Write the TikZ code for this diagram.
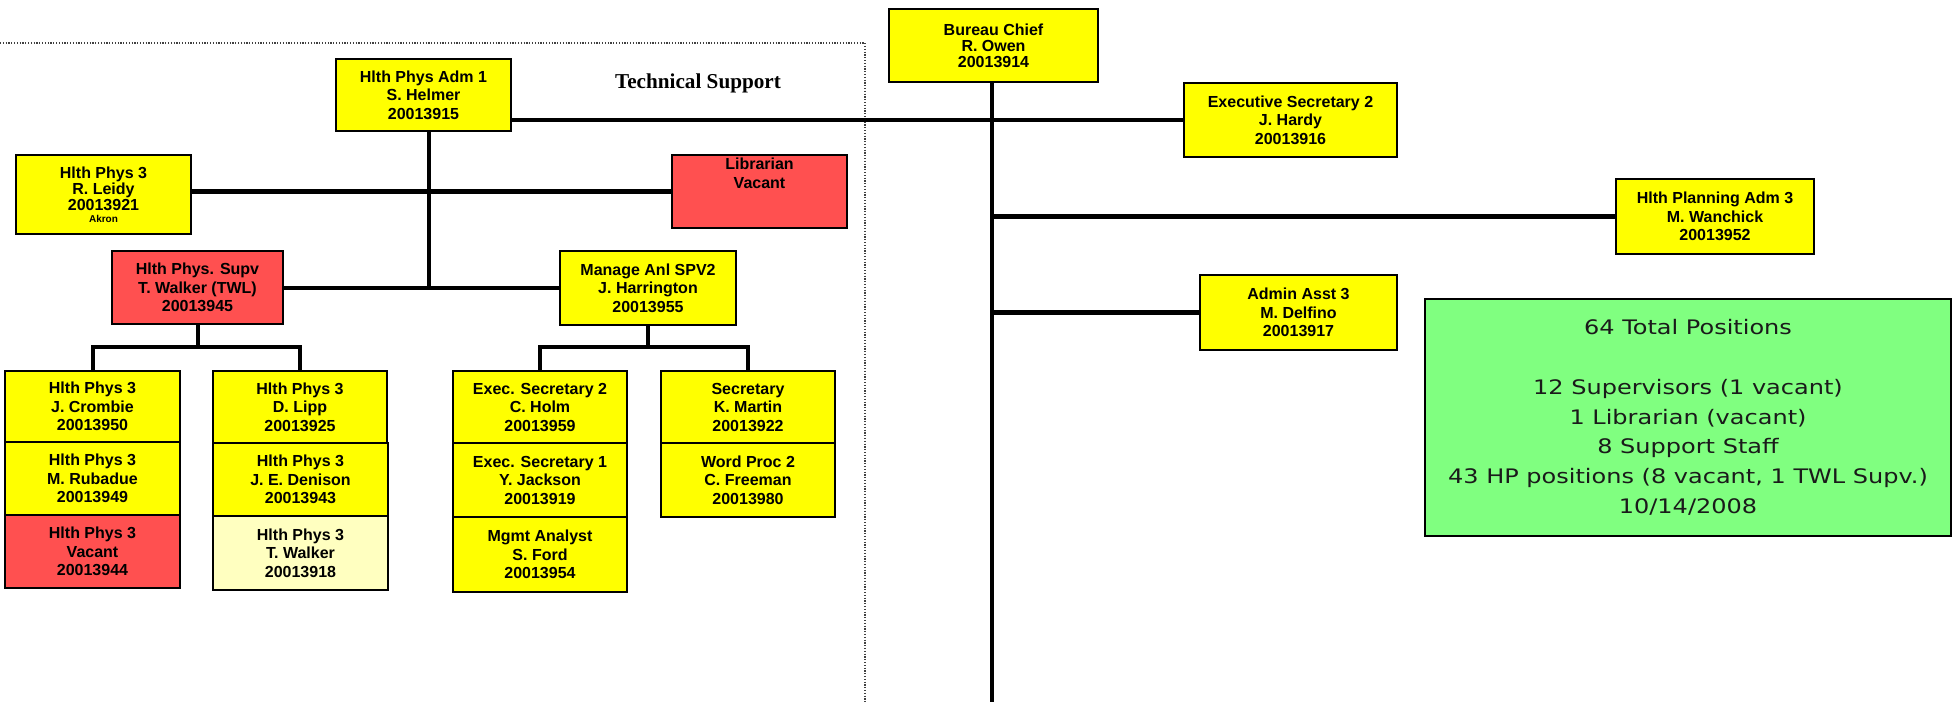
\documentclass[tikz,border=0pt]{standalone}
\usepackage{fontspec}
\setmainfont{Liberation Sans}
\newfontfamily\tnrfont{Liberation Serif}
\newfontfamily\dvfont[FakeStretch=1.2]{DejaVu Sans}
\definecolor{ylw}{HTML}{FFFF00}
\definecolor{rd}{HTML}{FF5050}
\definecolor{lylw}{HTML}{FFFFC0}
\definecolor{grn}{HTML}{80FF80}
\definecolor{txtgray}{HTML}{1A1A1A}
\begin{document}
\begin{tikzpicture}[x=0.5pt,y=-0.5pt,
  box/.style={draw=black, line width=0.9pt, inner sep=0pt, align=center,
    font=\bfseries\fontsize{8}{9.25}\selectfont},
  tight/.style={font=\bfseries\fontsize{8}{8}\selectfont},
  sz/.style 2 args={minimum width=#1*0.5pt, minimum height=#2*0.5pt},
  yb/.style={box, fill=ylw},
  rb/.style={box, fill=rd},
  lb/.style={box, fill=lylw},
  conn/.style={line width=2.4pt},
  bus/.style={line width=2pt},
  frame/.style={line width=0.6pt, dash pattern=on 0.6pt off 0.8pt, black!75}]
\useasboundingbox (0,0) rectangle (1953,702);

% dotted frame of Technical Support
\draw[frame] (0,43) -- (865,43) -- (865,702);
\node[font=\tnrfont\bfseries\fontsize{10.6}{12}\selectfont] (ts) at (698,83) {Technical Support};

% top level
\node[yb, tight, sz={209}{73}] (chief) at (993.5,45.5) {Bureau Chief\\R. Owen\\20013914};
\node[yb, sz={175}{72}] (adm1) at (423.5,95) {Hlth Phys Adm 1\\S. Helmer\\20013915};
\node[yb, sz={213}{74}] (hardy) at (1290.5,120) {Executive Secretary 2\\J. Hardy\\20013916};
\node[yb, sz={198}{75}] (wan) at (1715,216.5) {Hlth Planning Adm 3\\M. Wanchick\\20013952};
\node[yb, sz={197}{75}] (delf) at (1298.5,312.5) {Admin Asst 3\\M. Delfino\\20013917};
\node[box, fill=grn, sz={526}{237}, text=txtgray,
  font=\dvfont\fontsize{10}{14.9}\selectfont] (tot) at (1688,417.5)
  {64 Total Positions\\~\\12 Supervisors (1 vacant)\\1 Librarian (vacant)\\8 Support Staff\\43 HP positions (8 vacant, 1 TWL Supv.)\\10/14/2008};

% second level
\node[yb, tight, sz={175}{79}] (leidy) at (103.5,194.5) {Hlth Phys 3\\R. Leidy\\20013921\\[-2pt]{\fontsize{5}{6}\selectfont Akron}};
\node[rb, sz={175}{73}] (lib) at (759.5,191.5) {Librarian\\Vacant\\~\\~};
\node[rb, sz={171}{73}] (supv) at (197.5,287.5) {Hlth Phys. Supv\\T. Walker (TWL)\\20013945};
\node[yb, sz={176}{74}] (mng) at (648,288) {Manage Anl SPV2\\J. Harrington\\20013955};

% columns
\node[yb, sz={175}{71}] (c1a) at (92.5,406.5) {Hlth Phys 3\\J. Crombie\\20013950};
\node[yb, sz={175}{73}] (c1b) at (92.5,478.5) {Hlth Phys 3\\M. Rubadue\\20013949};
\node[rb, sz={175}{73}] (c1c) at (92.5,551.5) {Hlth Phys 3\\Vacant\\20013944};
\node[yb, sz={174}{72}] (c2a) at (300,407) {Hlth Phys 3\\D. Lipp\\20013925};
\node[yb, sz={175}{73}] (c2b) at (300.5,479.5) {Hlth Phys 3\\J. E. Denison\\20013943};
\node[lb, sz={175}{74}] (c2c) at (300.5,553) {Hlth Phys 3\\T. Walker\\20013918};
\node[yb, sz={174}{72}] (c3a) at (540,407) {Exec. Secretary 2\\C. Holm\\20013959};
\node[yb, sz={174}{74}] (c3b) at (540,480) {Exec. Secretary 1\\Y. Jackson\\20013919};
\node[yb, sz={174}{75}] (c3c) at (540,554.5) {Mgmt Analyst\\S. Ford\\20013954};
\node[yb, sz={174}{72}] (c4a) at (748,407) {Secretary\\K. Martin\\20013922};
\node[yb, sz={174}{74}] (c4b) at (748,480) {Word Proc 2\\C. Freeman\\20013980};

% connectors
\coordinate (vbot) at (992,702);
\coordinate (j1) at (429,288);
\coordinate (sbus) at (197,347);
\coordinate (mbus) at (646,347);

\draw[conn] (chief.south -| vbot) -- (vbot);
\draw[conn] (adm1.east |- hardy.west) -- (hardy.west);
\draw[conn] (vbot |- wan.west) -- (wan.west);
\draw[conn] (vbot |- delf.west) -- (delf.west);
\draw[conn] (adm1.south -| j1) -- (j1);
\draw[conn] (leidy.east |- lib.west) -- (lib.west);
\draw[conn] (supv.east |- j1) -- (mng.west |- j1);

\draw[bus] (supv.south) -- (supv.south |- sbus);
\draw[bus] (c1a.north) -- (c1a.north |- sbus) -- (c2a.north |- sbus) -- (c2a.north);
\draw[bus] (mng.south) -- (mng.south |- mbus);
\draw[bus] (c3a.north) -- (c3a.north |- mbus) -- (c4a.north |- mbus) -- (c4a.north);
\end{tikzpicture}
\end{document}
